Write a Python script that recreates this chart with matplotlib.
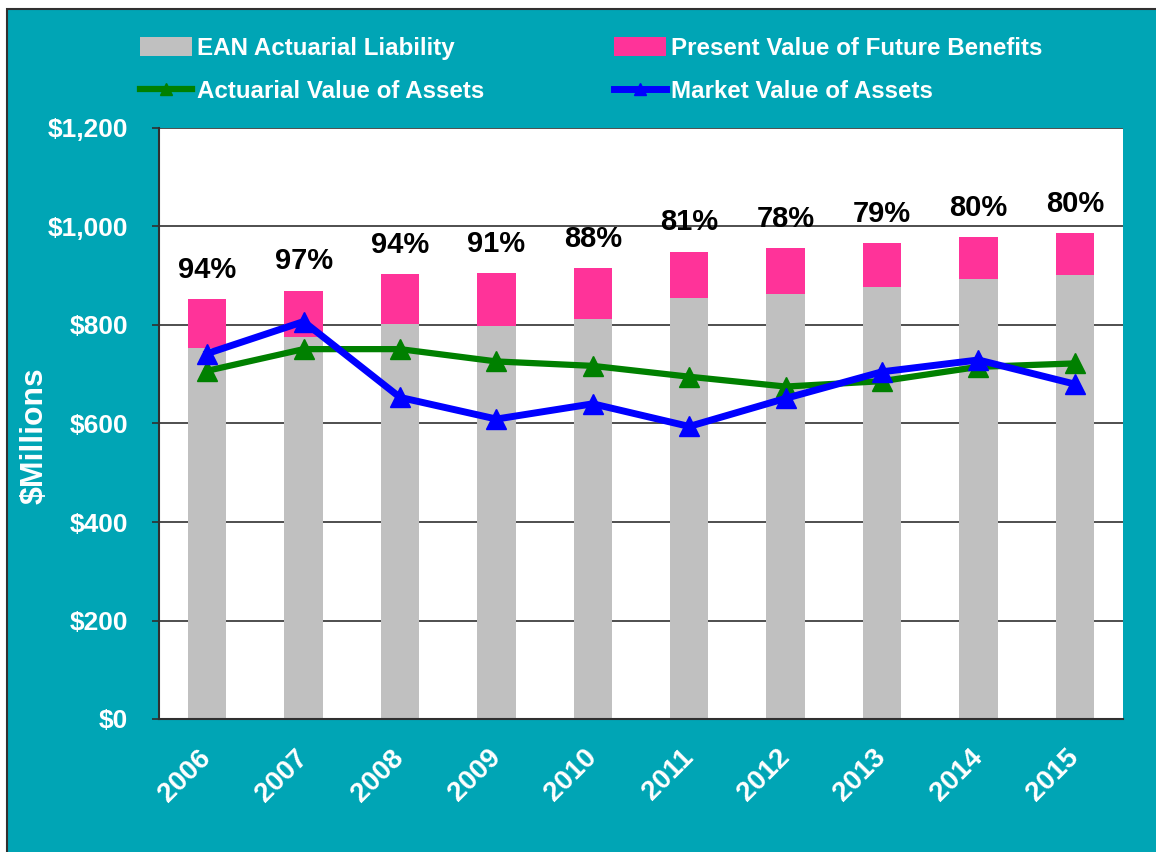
import matplotlib
matplotlib.use("Agg")
import matplotlib.pyplot as plt
from matplotlib.patches import Rectangle, Patch
from matplotlib.lines import Line2D
import numpy as np

plt.rcParams["font.family"] = ["Liberation Sans", "DejaVu Sans"]
plt.rcParams["font.weight"] = "bold"

# data ($ millions)
years = ["2006", "2007", "2008", "2009", "2010", "2011", "2012", "2013", "2014", "2015"]
ean_liability = [754, 775, 802, 797, 813, 855, 863, 878, 894, 901]
pv_future_benefits = [852, 870, 904, 906, 916, 949, 956, 966, 979, 987]
actuarial_assets = [707, 751, 751, 726, 717, 695, 675, 686, 715, 722]
market_assets = [742, 807, 653, 609, 640, 594, 651, 705, 729, 680]
funded_pct = ["94%", "97%", "94%", "91%", "88%", "81%", "78%", "79%", "80%", "80%"]

TEAL = "#00A5B5"
GRAY = "#C0C0C0"
PINK = "#FF3399"
GREEN = "#008000"
BLUE = "#0000FF"

fig = plt.figure(figsize=(11.56, 8.52), dpi=100)
fig.patch.set_facecolor("white")
bg = Rectangle((7 / 1156, -0.01), 1.0, 1 - 9 / 852 + 0.01,
               transform=fig.transFigure, facecolor=TEAL,
               edgecolor="#303030", linewidth=1.5, zorder=-10)
fig.add_artist(bg)

ax = fig.add_axes([159 / 1156, 1 - 719 / 852, 964 / 1156, 591 / 852])
ax.set_facecolor("white")

x = np.arange(len(years))
pv_extra = np.array(pv_future_benefits) - np.array(ean_liability)

ax.bar(x, ean_liability, width=0.4, color=GRAY, zorder=2)
ax.bar(x, pv_extra, bottom=ean_liability, width=0.4, color=PINK, zorder=2)

ax.plot(x, actuarial_assets, color=GREEN, linewidth=4.5, marker="^",
        markersize=14, zorder=3)
ax.plot(x, market_assets, color=BLUE, linewidth=5, marker="^",
        markersize=14, zorder=4)

for xi, top, lab in zip(x, pv_future_benefits, funded_pct):
    ax.annotate(lab, (xi, top), xytext=(0, 11), textcoords="offset points",
                ha="center", va="bottom", fontsize=21, fontweight="bold",
                color="black")

ax.set_xlim(-0.5, len(years) - 0.5)
ax.set_ylim(0, 1200)
ax.set_yticks(range(0, 1201, 200))
ax.set_yticklabels(["${:,}".format(v) for v in range(0, 1201, 200)])
ax.yaxis.grid(True, color="#303030", linewidth=1.2, zorder=1)
ax.set_axisbelow(True)

ax.set_xticks(x)
ax.set_xticklabels(years, rotation=45, ha="right", va="center",
                   rotation_mode="anchor")

ax.tick_params(axis="x", length=0, labelsize=20, labelcolor="white", pad=25)
ax.tick_params(axis="y", length=5, width=1.2, color="#303030",
               labelsize=19, labelcolor="white", pad=17)

for side in ["top", "right"]:
    ax.spines[side].set_visible(False)
for side in ["left", "bottom"]:
    ax.spines[side].set_color("#303030")
    ax.spines[side].set_linewidth(1.5)

ax.set_ylabel("$Millions", color="white", fontsize=23, fontweight="bold")
ax.yaxis.set_label_coords(-0.113, 0.48)

handles = [
    Patch(facecolor=GRAY, edgecolor="none", label="EAN Actuarial Liability"),
    Line2D([], [], color=GREEN, linewidth=4.5, marker="^", markersize=9,
           label="Actuarial Value of Assets"),
    Patch(facecolor=PINK, edgecolor="none", label="Present Value of Future Benefits"),
    Line2D([], [], color=BLUE, linewidth=5, marker="^", markersize=9,
           label="Market Value of Assets"),
]
leg = fig.legend(handles=handles, ncol=2, loc="upper left",
                 bbox_to_anchor=(118 / 1156, 1 - 15 / 852),
                 frameon=False, fontsize=17.4, handlelength=2.15,
                 handleheight=0.8, handletextpad=0.22, labelspacing=0.85,
                 columnspacing=5.35)
for t in leg.get_texts():
    t.set_color("white")
    t.set_fontweight("bold")

fig.savefig("out.png", dpi=100, facecolor=fig.get_facecolor())
